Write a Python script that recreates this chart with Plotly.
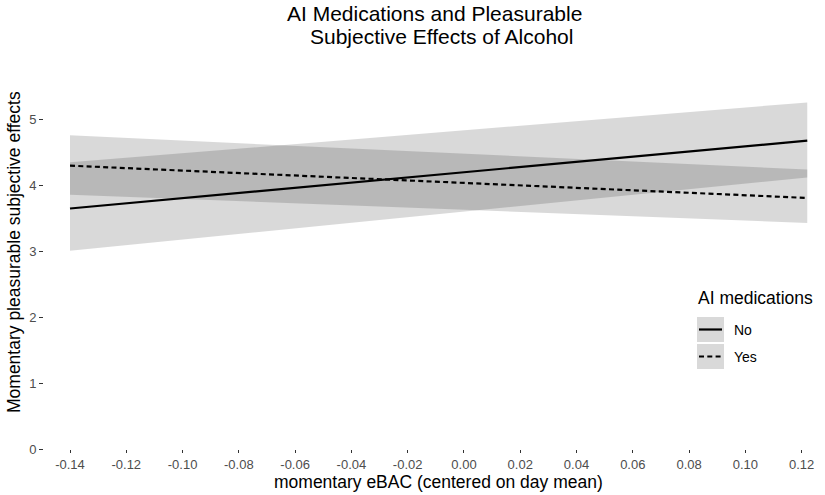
import plotly.graph_objects as go

# Data
x_ends = [-0.14, 0.122]
no_fit = [3.65, 4.68]
no_lo = [3.01, 4.12]
no_hi = [4.35, 5.26]
yes_fit = [4.30, 3.81]
yes_lo = [3.86, 3.43]
yes_hi = [4.76, 4.24]

x_ticks = [-0.14, -0.12, -0.10, -0.08, -0.06, -0.04, -0.02, 0.00, 0.02, 0.04, 0.06, 0.08, 0.10, 0.12]
x_ticklabels = ["%.2f" % v for v in x_ticks]
y_ticks = [0, 1, 2, 3, 4, 5]
legend_labels = ["No", "Yes"]
legend_title = "AI medications"
title_lines = ["AI Medications and Pleasurable", "Subjective Effects of Alcohol"]
x_title = "momentary eBAC (centered on day mean)"
y_title = "Momentary pleasurable subjective effects"

FONT = "Liberation Sans, Arial, sans-serif"
band_fill = "rgba(0,0,0,0.15)"
DASH = "5px,3.3px"
LW = 2.2

fig = go.Figure()
for lo, hi in [(no_lo, no_hi), (yes_lo, yes_hi)]:
    fig.add_trace(go.Scatter(x=x_ends, y=lo, mode="lines", line=dict(width=0),
                             showlegend=False, hoverinfo="skip"))
    fig.add_trace(go.Scatter(x=x_ends, y=hi, mode="lines", line=dict(width=0),
                             fill="tonexty", fillcolor=band_fill,
                             showlegend=False, hoverinfo="skip"))

fig.add_trace(go.Scatter(x=x_ends, y=no_fit, mode="lines", name="No",
                         line=dict(color="black", width=LW), showlegend=False))
fig.add_trace(go.Scatter(x=x_ends, y=yes_fit, mode="lines", name="Yes",
                         line=dict(color="black", width=LW, dash=DASH), showlegend=False))

# plot area geometry (pixels) for manual legend / title placement
L, R, T, B = 44, 825, 80, 449
W, H = R - L, B - T
px = lambda v: (v - L) / W
py = lambda v: (B - v) / H

shapes = []
annotations = []
# title (two centred lines)
annotations.append(dict(x=px(435), y=py(13), xref="paper", yref="paper", text=title_lines[0],
                        showarrow=False, xanchor="center", yanchor="middle",
                        font=dict(family=FONT, size=21, color="black")))
annotations.append(dict(x=px(441), y=py(37), xref="paper", yref="paper", text=title_lines[1],
                        showarrow=False, xanchor="center", yanchor="middle",
                        font=dict(family=FONT, size=21, color="black")))
# axis titles
annotations.append(dict(x=px(438), y=py(482), xref="paper", yref="paper", text=x_title,
                        showarrow=False, xanchor="center", yanchor="middle",
                        font=dict(family=FONT, size=17.5, color="black")))
annotations.append(dict(x=px(14), y=py(252), xref="paper", yref="paper", text=y_title,
                        showarrow=False, xanchor="center", yanchor="middle", textangle=-90,
                        font=dict(family=FONT, size=17.5, color="black")))
# legend
annotations.append(dict(x=px(696), y=py(298), xref="paper", yref="paper", text=legend_title,
                        showarrow=False, xanchor="left", yanchor="middle",
                        font=dict(family=FONT, size=17.5, color="black")))
for i, lab in enumerate(legend_labels):
    top = 317 + i * 27
    bot = top + 25
    mid = (top + bot) / 2
    shapes.append(dict(type="rect", xref="paper", yref="paper", x0=px(697), x1=px(724),
                       y0=py(bot), y1=py(top), fillcolor=band_fill, line=dict(width=0), layer="above"))
    shapes.append(dict(type="line", xref="paper", yref="paper", x0=px(699), x1=px(722),
                       y0=py(mid), y1=py(mid), layer="above",
                       line=dict(color="black", width=LW, dash="solid" if i == 0 else DASH)))
    annotations.append(dict(x=px(732), y=py(mid), xref="paper", yref="paper", text=lab,
                            showarrow=False, xanchor="left", yanchor="middle",
                            font=dict(family=FONT, size=14, color="black")))

fig.update_layout(
    width=825, height=495,
    margin=dict(l=L, r=825 - R, t=T, b=495 - B, autoexpand=False),
    paper_bgcolor="white", plot_bgcolor="white",
    font=dict(family=FONT, color="black"),
    shapes=shapes, annotations=annotations,
    showlegend=False,
)
fig.update_xaxes(range=[-0.14 - (70 - L) / 2814, -0.14 + (R - 70) / 2814],
                 tickvals=x_ticks, ticktext=x_ticklabels, automargin=False,
                 showgrid=False, zeroline=False, showline=False,
                 ticks="outside", ticklen=3, tickcolor="#333333", tickwidth=1,
                 tickfont=dict(family=FONT, size=13, color="#4d4d4d"))
fig.update_yaxes(range=[0, 5.6], tickvals=y_ticks, automargin=False,
                 showgrid=False, zeroline=False, showline=False,
                 ticks="outside", ticklen=4, tickcolor="#333333", tickwidth=1,
                 tickfont=dict(family=FONT, size=13, color="#4d4d4d"))

fig.write_html("out.html", config={"displayModeBar": False},
               post_script="document.body.style.margin='0';")
